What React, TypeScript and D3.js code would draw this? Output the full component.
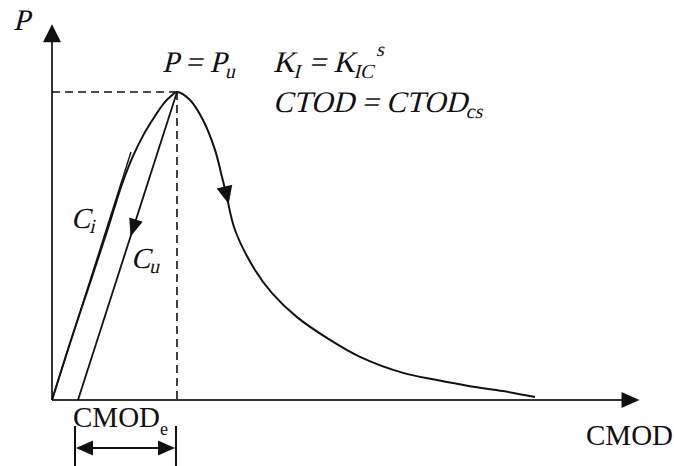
import React from "react";
import * as d3 from "d3";

// load-CMOD curve, CMOD normalised by CMOD at peak, P normalised by Pu
const loadingCmod = [0, 0.144, 0.304, 0.448, 0.56, 0.648, 0.736, 0.824, 0.896, 0.952, 1];
const loadingP = [0, 0.185, 0.38, 0.558, 0.701, 0.792, 0.864, 0.922, 0.964, 0.987, 1];

const softeningCmod = [1, 1.104, 1.208, 1.304, 1.36, 1.392, 1.464, 1.624, 1.76, 1.96, 2.224, 2.464, 2.808, 3.08, 3.344, 3.608, 3.864];
const softeningP = [1, 0.974, 0.909, 0.812, 0.724, 0.672, 0.552, 0.422, 0.347, 0.269, 0.195, 0.14, 0.088, 0.065, 0.045, 0.029, 0.01];

// initial compliance tangent and unloading compliance line
const ciCmod = [0, 0.632];
const ciP = [0, 0.805];
const cuCmod = [0.208, 1];
const cuP = [0, 1];

const xAxisMax = 4.7;
const yAxisMax = 1.22;

const W = 674;
const H = 466;
const font = "'Liberation Serif', 'Times New Roman', serif";
const ink = "#111";

function arrowHead(tx: number, ty: number, dx: number, dy: number, len: number, half: number) {
  const n = Math.hypot(dx, dy);
  const ux = dx / n;
  const uy = dy / n;
  const bx = tx - ux * len;
  const by = ty - uy * len;
  const px = -uy * half;
  const py = ux * half;
  return `M${tx},${ty}L${bx + px},${by + py}L${bx - px},${by - py}Z`;
}

// the italic face is not reliably there, so slant the regular serif
function Ital({ x, y, size, children }: { x: number; y: number; size: number; children: React.ReactNode }) {
  return (
    <text transform={`translate(${x},${y}) skewX(-14)`} fontSize={size}>
      {children}
    </text>
  );
}

export default function App() {
  const x = d3.scaleLinear().domain([0, xAxisMax]).range([52, 639.5]);
  const y = d3.scaleLinear().domain([0, 1]).range([400, 92]);

  const curvePts: [number, number][] = [
    ...loadingCmod.map((c, i) => [x(c), y(loadingP[i])] as [number, number]),
    ...softeningCmod.slice(1).map((c, i) => [x(c), y(softeningP[i + 1])] as [number, number]),
  ];

  const ciPath = d3.line()(ciCmod.map((c, i) => [x(c), y(ciP[i])]));
  const cuPath = d3.line()(cuCmod.map((c, i) => [x(c), y(cuP[i])]));
  const mainPath = d3.line().curve(d3.curveCatmullRom.alpha(0.5))(curvePts);

  // arrow on Cu (unloading direction)
  const tCu = 0.47;
  const cuTipX = x(cuCmod[1] + (cuCmod[0] - cuCmod[1]) * tCu);
  const cuTipY = y(cuP[1] + (cuP[0] - cuP[1]) * tCu);
  const cuDx = x(cuCmod[0]) - x(cuCmod[1]);
  const cuDy = y(cuP[0]) - y(cuP[1]);

  // arrow on post-peak branch
  const k = 5;
  const tS = 0.3;
  const sx0 = x(softeningCmod[k]);
  const sy0 = y(softeningP[k]);
  const sx1 = x(softeningCmod[k + 1]);
  const sy1 = y(softeningP[k + 1]);
  const sTipX = sx0 + (sx1 - sx0) * tS;
  const sTipY = sy0 + (sy1 - sy0) * tS;

  const x0 = x(0);
  const y0 = y(0);
  const xTop = x(xAxisMax);
  const yTop = y(yAxisMax);

  const brL = x(cuCmod[0]) - 3;
  const brR = x(1) - 1;

  return (
    <svg width={W} height={H} style={{ position: "absolute", left: 0, top: 0, background: "#fff" }}>
      {/* axes */}
      <line x1={x0} y1={y0} x2={x0} y2={yTop + 16} stroke="#333" strokeWidth={2} />
      <path d={arrowHead(x0, yTop, 0, -1, 18, 9)} fill={ink} />
      <line x1={x0} y1={y0} x2={xTop - 16} y2={y0} stroke="#333" strokeWidth={2} />
      <path d={arrowHead(xTop, y0, 1, 0, 18, 8)} fill={ink} />

      {/* peak guides */}
      <line x1={x0} y1={y(1)} x2={x(1)} y2={y(1)} stroke={ink} strokeWidth={1.6} strokeDasharray="8,5" />
      <line x1={x(1)} y1={y(1)} x2={x(1)} y2={y0} stroke={ink} strokeWidth={1.6} strokeDasharray="8,5" />

      {/* compliance lines */}
      <path d={ciPath || undefined} fill="none" stroke={ink} strokeWidth={1.4} />
      <path d={cuPath || undefined} fill="none" stroke={ink} strokeWidth={1.8} />
      <path d={arrowHead(cuTipX, cuTipY, cuDx, cuDy, 18, 7)} fill={ink} />

      {/* P-CMOD curve */}
      <path d={mainPath || undefined} fill="none" stroke={ink} strokeWidth={2} />
      <path d={arrowHead(sTipX, sTipY, sx1 - sx0, sy1 - sy0, 18, 8)} fill={ink} />

      {/* CMOD_e bracket */}
      <line x1={brL} y1={426} x2={brL} y2={H} stroke={ink} strokeWidth={2} />
      <line x1={brR} y1={426} x2={brR} y2={H} stroke={ink} strokeWidth={2} />
      <line x1={brL + 14} y1={448} x2={brR - 14} y2={448} stroke={ink} strokeWidth={2.2} />
      <path d={arrowHead(brL + 1, 448, -1, 0, 17, 7.5)} fill={ink} />
      <path d={arrowHead(brR - 1, 448, 1, 0, 17, 7.5)} fill={ink} />

      <g fontFamily={font} fill={ink}>
        <Ital x={13} y={30} size={30}>P</Ital>

        <Ital x={162} y={72} size={30}>
          P = P<tspan dy={6} fontSize={20}>u</tspan>
        </Ital>

        <Ital x={273} y={72} size={30}>
          K<tspan dy={6} fontSize={20}>I</tspan>
          <tspan dy={-6}> = K</tspan>
          <tspan dy={6} fontSize={20}>IC</tspan>
          <tspan dx={-3} dy={-22} fontSize={20}>s</tspan>
        </Ital>

        <Ital x={273} y={112} size={30}>
          CTOD = CTOD<tspan dy={6} fontSize={20}>cs</tspan>
        </Ital>

        <Ital x={71} y={228} size={29}>
          C<tspan dy={5} fontSize={20}>i</tspan>
        </Ital>
        <Ital x={131} y={268} size={29}>
          C<tspan dy={5} fontSize={20}>u</tspan>
        </Ital>

        <text x={73} y={427} fontSize={29}>
          CMOD<tspan dy={8} fontSize={18}>e</tspan>
        </text>
        <text x={586} y={445} fontSize={29}>CMOD</text>
      </g>
    </svg>
  );
}
